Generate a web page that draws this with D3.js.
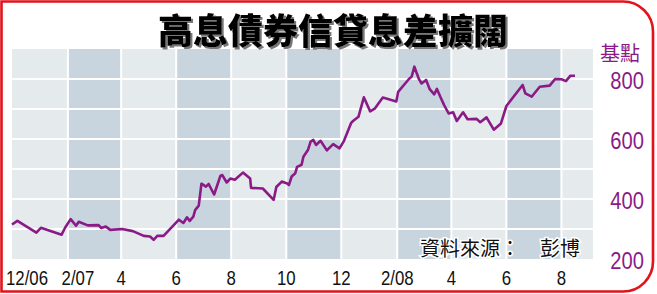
<!DOCTYPE html>
<html>
<head>
<meta charset="utf-8">
<script src="https://cdn.jsdelivr.net/npm/d3@7"></script>
<style>
  body { margin: 0; background: #fff; }
  svg { display: block; }
</style>
</head>
<body>
<svg id="chart" width="657" height="294"></svg>
<script>
const title = "高息債券信貸息差擴闊";
const unitLabel = "基點";
const sourceNote = "資料來源：　彭博";

const dates = [
    "2006-12-01", "2006-12-07", "2006-12-28", "2007-01-02", "2007-01-25", "2007-01-29",
    "2007-02-04", "2007-02-10", "2007-02-13", "2007-02-23", "2007-03-07", "2007-03-10",
    "2007-03-15", "2007-03-20", "2007-04-02", "2007-04-14", "2007-04-26", "2007-05-03",
    "2007-05-07", "2007-05-11", "2007-05-18", "2007-06-04", "2007-06-09", "2007-06-13",
    "2007-06-16", "2007-06-20", "2007-06-22", "2007-06-26", "2007-06-29", "2007-07-04",
    "2007-07-07", "2007-07-13", "2007-07-17", "2007-07-20", "2007-07-22", "2007-07-27",
    "2007-07-31", "2007-08-05", "2007-08-14", "2007-08-22", "2007-08-23", "2007-09-05",
    "2007-09-17", "2007-09-20", "2007-09-26", "2007-10-02", "2007-10-04", "2007-10-07",
    "2007-10-11", "2007-10-13", "2007-10-18", "2007-10-20", "2007-10-25", "2007-10-28",
    "2007-10-31", "2007-11-03", "2007-11-08", "2007-11-15", "2007-11-22", "2007-11-29",
    "2007-12-04", "2007-12-12", "2007-12-14", "2007-12-20", "2007-12-26", "2008-01-02",
    "2008-01-07", "2008-01-16", "2008-01-31", "2008-02-02", "2008-02-14", "2008-02-17",
    "2008-02-20", "2008-02-25", "2008-02-28", "2008-03-04", "2008-03-08", "2008-03-13",
    "2008-03-16", "2008-03-20", "2008-03-24", "2008-03-29", "2008-04-03", "2008-04-07",
    "2008-04-14", "2008-04-19", "2008-04-29", "2008-05-03", "2008-05-10", "2008-05-18",
    "2008-05-26", "2008-06-01", "2008-06-19", "2008-06-22", "2008-06-29", "2008-07-08",
    "2008-07-19", "2008-07-25", "2008-08-01", "2008-08-06", "2008-08-11", "2008-08-16"
];
const spread = [
    315, 327, 288, 304, 281, 305,
    333, 311, 324, 312, 313, 303,
    308, 297, 300, 293, 277, 275,
    264, 277, 277, 331, 320, 339,
    327, 341, 363, 378, 451, 441,
    450, 415, 450, 477, 480, 455,
    468, 464, 488, 468, 437, 435,
    397, 440, 458, 452, 447, 475,
    486, 507, 514, 541, 563, 591,
    597, 580, 594, 562, 583, 569,
    594, 654, 660, 674, 739, 692,
    701, 738, 725, 757, 800, 808,
    841, 800, 785, 797, 766, 749,
    767, 739, 713, 685, 689, 660,
    689, 666, 667, 656, 672, 631,
    652, 710, 780, 752, 741, 774,
    778, 800, 799, 793, 811, 811
];

// month marks every two months, the last entry closes the plot
const tickDates = [
    "2006-12-01", "2007-02-01", "2007-04-01", "2007-06-01", "2007-08-01", "2007-10-01",
    "2007-12-01", "2008-02-01", "2008-04-01", "2008-06-01", "2008-08-01"
];
const tickLabels = ["12/06", "2/07", "4", "6", "8", "10", "12", "2/08", "4", "6", "8"];
const endDate = "2008-09-05";
const yTicks = [200, 400, 600, 800];
const yDomain = [200, 900];

const parse = d3.timeParse("%Y-%m-%d");
const data = dates.map((d, i) => ({date: parse(d), value: spread[i]}));
const edges = tickDates.concat([endDate]).map(parse);

const purple = "#8b1a87";
const svg = d3.select("#chart");

// soft grey shadow for the title
svg.append("defs").append("filter")
    .attr("id", "shadow")
    .attr("x", "-5%").attr("y", "-20%")
    .attr("width", "110%").attr("height", "150%")
    .append("feDropShadow")
    .attr("dx", 2).attr("dy", 2)
    .attr("stdDeviation", 0.6)
    .attr("flood-color", "#777")
    .attr("flood-opacity", 1);

const x = d3.scaleTime()
    .domain([parse(tickDates[0]), parse(endDate)])
    .range([12, 593]);
const y = d3.scaleLinear()
    .domain(yDomain)
    .range([259, 49]);

// alternating two-month bands
svg.append("g").selectAll("rect")
    .data(d3.pairs(edges))
    .enter()
    .append("rect")
    .attr("x", d => x(d[0]))
    .attr("y", y(yDomain[1]))
    .attr("width", d => x(d[1]) - x(d[0]))
    .attr("height", y(yDomain[0]) - y(yDomain[1]))
    .style("fill", (d, i) => i % 2 ? "#c8d5de" : "#e5eaed");

// white grid lines
const grid = svg.append("g").attr("stroke", "#fff").attr("stroke-width", 2);
grid.selectAll("line.h")
    .data(d3.range(yDomain[0] + 100, yDomain[1], 100))
    .enter()
    .append("line")
    .attr("x1", x.range()[0])
    .attr("x2", x.range()[1])
    .attr("y1", d => y(d))
    .attr("y2", d => y(d));
grid.selectAll("line.v")
    .data(edges.slice(1, -1))
    .enter()
    .append("line")
    .attr("x1", d => x(d))
    .attr("x2", d => x(d))
    .attr("y1", y(yDomain[1]))
    .attr("y2", y(yDomain[0]));

svg.append("path")
    .datum(data)
    .attr("fill", "none")
    .attr("stroke", purple)
    .attr("stroke-width", 2.6)
    .attr("stroke-linejoin", "round")
    .attr("d", d3.line().x(d => x(d.date)).y(d => y(d.value)));

// x labels, squeezed like a narrow face
const xLabelShift = (i) => i === 0 ? -6 : i === 1 ? 10 : 0;
svg.append("g").selectAll("text")
    .data(tickDates)
    .enter()
    .append("text")
    .attr("transform", (d, i) =>
        "translate(" + (x(parse(d)) + xLabelShift(i)) + ",285) scale(0.8,1)")
    .attr("text-anchor", (d, i) => i === 0 ? "start" : "middle")
    .style("font-family", "'Liberation Sans', Arial, sans-serif")
    .style("font-size", "21px")
    .style("fill", "#111")
    .text((d, i) => tickLabels[i]);

// y labels on the right
svg.append("g").selectAll("text")
    .data(yTicks)
    .enter()
    .append("text")
    .attr("transform", d => "translate(644," + (y(d) + 2) + ") scale(0.84,1)")
    .attr("text-anchor", "end")
    .attr("dominant-baseline", "central")
    .style("font-family", "'Liberation Sans', Arial, sans-serif")
    .style("font-size", "24px")
    .style("fill", purple)
    .text(d => d);

svg.append("text")
    .attr("x", 620)
    .attr("y", 52)
    .attr("text-anchor", "middle")
    .attr("dominant-baseline", "central")
    .style("font-family", "'Noto Sans CJK TC', sans-serif")
    .style("font-size", "20px")
    .style("fill", purple)
    .text(unitLabel);

// source note with white halo
svg.append("text")
    .attr("x", 420)
    .attr("y", 247)
    .attr("dominant-baseline", "central")
    .style("font-family", "'Noto Sans CJK TC', sans-serif")
    .style("font-size", "20px")
    .style("fill", "#111")
    .style("stroke", "#fff")
    .style("stroke-width", 3)
    .style("paint-order", "stroke")
    .text(sourceNote);

svg.append("text")
    .attr("x", 333)
    .attr("y", 28)
    .attr("text-anchor", "middle")
    .attr("dominant-baseline", "central")
    .attr("filter", "url(#shadow)")
    .style("font-family", "'Noto Sans CJK TC', sans-serif")
    .style("font-size", "35px")
    .style("font-weight", 900)
    .style("fill", "#000")
    .text(title);

// red frame, rounded on the right side
svg.append("path")
    .attr("fill", "none")
    .attr("stroke", "#e3121b")
    .attr("stroke-width", 2.6)
    .attr("d", "M1.5,1.5 H623 A30,30 0 0 1 653,31.5 V261 A30,30 0 0 1 623,291.5 H1.5 Z");
</script>
</body>
</html>
